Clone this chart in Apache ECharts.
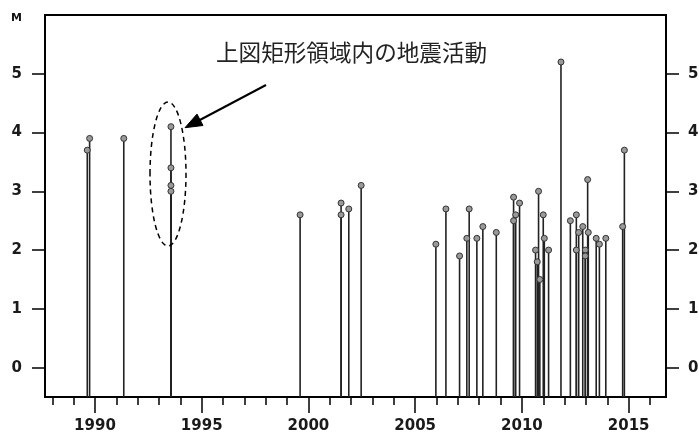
<!DOCTYPE html>
<html>
<head>
<meta charset="utf-8">
<script src="https://cdn.jsdelivr.net/npm/echarts@6/dist/echarts.min.js"></script>
<style>html,body{margin:0;padding:0;background:#fff;}#c{width:699px;height:432px;}</style>
</head>
<body>
<div id="c"></div>
<script>
// Event times (decimal year) and magnitudes
const eventYears = [
  1989.64, 1989.75, 1991.35, 1993.56, 1993.56, 1993.56, 1993.56,
  1999.61, 2001.53, 2001.53, 2001.89, 2002.47,
  2005.97, 2006.44, 2007.08, 2007.42, 2007.53, 2007.89, 2008.17, 2008.80,
  2009.61, 2009.61, 2009.71, 2009.89,
  2010.64, 2010.72, 2010.78, 2010.84, 2011.00, 2011.05, 2011.25,
  2011.83, 2012.27, 2012.55, 2012.55, 2012.66, 2012.85, 2012.97, 2012.97,
  2013.08, 2013.11, 2013.48, 2013.63, 2013.93, 2014.72, 2014.80
];
const eventMags = [
  3.7, 3.9, 3.9, 4.1, 3.4, 3.1, 3.0,
  2.6, 2.8, 2.6, 2.7, 3.1,
  2.1, 2.7, 1.9, 2.2, 2.7, 2.2, 2.4, 2.3,
  2.9, 2.5, 2.6, 2.8,
  2.0, 1.8, 3.0, 1.5, 2.6, 2.2, 2.0,
  5.2, 2.5, 2.6, 2.0, 2.3, 2.4, 2.0, 1.9,
  3.2, 2.3, 2.2, 2.1, 2.2, 2.4, 3.7
];
const yTickValues = [0, 1, 2, 3, 4, 5];
const yLeftLabelValues = [0, 1, 2, 3, 4, 5, 6];
const xMajorTicks = [1990, 1995, 2000, 2005, 2010, 2015];
const xMinorTicks = [1988, 1989, 1991, 1992, 1993, 1994, 1996, 1997, 1998, 1999, 2001, 2002, 2003, 2004,
  2006, 2007, 2008, 2009, 2011, 2012, 2013, 2014, 2016];
const annotationText = '上図矩形領域内の地震活動';

const X_MIN = 1987.66, X_MAX = 2016.75, Y_MIN = -0.5, Y_MAX = 6;
const points = eventYears.map((y, i) => [y, eventMags[i]]);

const chart = echarts.init(document.getElementById('c'), null, {renderer: 'canvas'});
const labelFont = {fontFamily: 'DejaVu Sans', fontSize: 15, fontWeight: 'bold', color: '#1a1a1a'};

chart.setOption({
  animation: false,
  backgroundColor: '#fff',
  grid: {left: 45, right: 33, top: 15, bottom: 35, containLabel: false, outerBoundsMode: 'none',
    show: true, borderColor: '#000', borderWidth: 2, backgroundColor: 'transparent'},
  xAxis: [
    {
      type: 'value', min: X_MIN, max: X_MAX, position: 'bottom',
      axisLine: {show: true, onZero: false, lineStyle: {color: '#000', width: 2}},
      axisTick: {show: true, customValues: xMajorTicks, length: 16, lineStyle: {color: '#000', width: 1.5}},
      axisLabel: Object.assign({customValues: xMajorTicks, margin: 22, formatter: v => String(v)}, labelFont),
      splitLine: {show: false}
    },
    {
      type: 'value', min: X_MIN, max: X_MAX, position: 'bottom',
      axisLine: {show: false, onZero: false},
      axisTick: {show: true, customValues: xMinorTicks, length: 8, lineStyle: {color: '#000', width: 1.5}},
      axisLabel: {show: false},
      splitLine: {show: false}
    }
  ],
  yAxis: [
    {
      type: 'value', min: Y_MIN, max: Y_MAX, position: 'left',
      axisLine: {show: true, onZero: false, lineStyle: {color: '#000', width: 2}},
      axisTick: {show: true, customValues: yTickValues, length: 13, lineStyle: {color: '#000', width: 1.5}},
      axisLabel: Object.assign({
        customValues: yLeftLabelValues, margin: 23,
        formatter: v => v === 6 ? '{m|M}' : String(v),
        rich: {m: {fontFamily: 'DejaVu Sans', fontSize: 11, fontWeight: 'bold', color: '#111', padding: [7, 0, 0, 0]}}
      }, labelFont),
      splitLine: {show: false}
    },
    {
      type: 'value', min: Y_MIN, max: Y_MAX, position: 'right',
      axisLine: {show: true, onZero: false, lineStyle: {color: '#000', width: 2}},
      axisTick: {show: true, customValues: yTickValues, length: 13, lineStyle: {color: '#000', width: 1.5}},
      axisLabel: Object.assign({customValues: yTickValues, margin: 22}, labelFont),
      splitLine: {show: false}
    }
  ],
  series: [
    {
      type: 'custom',
      xAxisIndex: 0, yAxisIndex: 0,
      data: points,
      renderItem: function (params, api) {
        const top = api.coord([api.value(0), api.value(1)]);
        const bot = api.coord([api.value(0), Y_MIN]);
        return {
          type: 'line',
          shape: {x1: top[0], y1: top[1], x2: bot[0], y2: bot[1]},
          style: {stroke: '#222', lineWidth: 1.6}
        };
      },
      z: 2
    },
    {
      type: 'scatter',
      xAxisIndex: 0, yAxisIndex: 0,
      data: points,
      symbol: 'circle', symbolSize: 6,
      itemStyle: {color: '#999', borderColor: '#333', borderWidth: 1, opacity: 1},
      z: 3
    }
  ],
  graphic: [
    {
      type: 'text', left: 216, top: 41, z: 10,
      style: {text: annotationText, font: '22.6px "Noto Sans CJK JP"', fill: '#222'}
    },
    {
      type: 'ellipse', z: 10,
      shape: {cx: 168, cy: 174, rx: 18, ry: 72},
      style: {fill: 'none', stroke: '#000', lineWidth: 1.5, lineDash: [5, 4]}
    },
    {
      type: 'line', z: 10,
      shape: {x1: 266, y1: 85, x2: 197, y2: 121.5},
      style: {stroke: '#000', lineWidth: 2}
    },
    {
      type: 'polygon', z: 10,
      shape: {points: [[185, 127.7], [203, 125.5], [197, 114.1]]},
      style: {fill: '#000', stroke: '#000', lineWidth: 1}
    }
  ]
});
</script>
</body>
</html>
